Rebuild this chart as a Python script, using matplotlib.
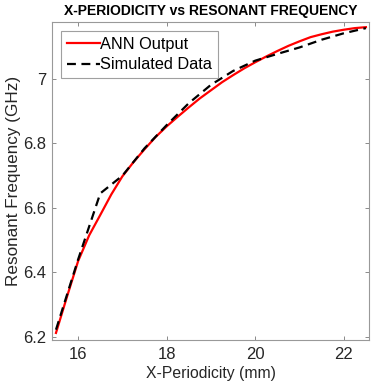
import matplotlib
matplotlib.use("Agg")
import matplotlib.pyplot as plt

plt.rcParams['font.family'] = ['Liberation Sans', 'DejaVu Sans']

x_sim = [15.5, 16.0, 16.5, 17.0, 17.5, 18.0, 18.5, 19.0, 19.5, 20.0, 20.5, 21.0, 21.5, 22.0, 22.5]
y_sim = [6.222, 6.44, 6.645, 6.70, 6.785, 6.857, 6.925, 6.982, 7.025, 7.057, 7.078, 7.098, 7.122, 7.142, 7.158]

x_ann = [15.5, 15.75, 16.0, 16.25, 16.5, 16.75, 17.0, 17.25, 17.5, 17.75, 18.0, 18.25, 18.5,
         18.75, 19.0, 19.25, 19.5, 19.75, 20.0, 20.25, 20.5, 20.75, 21.0, 21.25, 21.5, 21.75,
         22.0, 22.25, 22.5]
y_ann = [6.212, 6.325, 6.435, 6.515, 6.578, 6.642, 6.698, 6.742, 6.782, 6.82, 6.853, 6.883, 6.912,
         6.94, 6.965, 6.99, 7.012, 7.033, 7.052, 7.07, 7.087, 7.103, 7.117, 7.13, 7.139, 7.147,
         7.153, 7.158, 7.161]

xticks = [16, 18, 20, 22]
yticks = [6.2, 6.4, 6.6, 6.8, 7.0]
yticklabels = ['6.2', '6.4', '6.6', '6.8', '7']

fig = plt.figure(figsize=(3.72, 3.90), dpi=100)
ax = fig.add_axes([52/372, 1-340/390, (369-52)/372, (340-22)/390])

ax.plot(x_ann, y_ann, color='#ff0000', lw=1.6, label='ANN Output')
ax.plot(x_sim, y_sim, color='black', lw=1.6, ls=(0, (4, 2.5)), label='Simulated Data')

ax.set_xlim(15.41, 22.57)
ax.set_ylim(6.19, 7.177)
ax.set_xticks(xticks)
ax.set_yticks(yticks)
ax.set_yticklabels(yticklabels)
ax.tick_params(direction='in', top=True, right=True, length=3, width=0.6,
               color='#777777', labelsize=12, labelcolor='#262626', pad=5)
ax.tick_params(axis='y', pad=4)
for s in ax.spines.values():
    s.set_color('#999999')
    s.set_linewidth(0.8)

ax.set_xlabel('X-Periodicity (mm)', fontsize=11.3, color='#262626', labelpad=3)
ax.set_ylabel('Resonant Frequency (GHz)', fontsize=12.3, color='#262626', labelpad=2)
ax.set_title('X-PERIODICITY vs RESONANT FREQUENCY', fontsize=10, fontweight='bold', pad=5)

leg = ax.legend(loc='upper left', fontsize=11.8, frameon=True, fancybox=False,
                edgecolor='#888888', borderpad=0.35, handlelength=2.0,
                handletextpad=0.05, labelspacing=0.35, borderaxespad=0.55)
leg.get_frame().set_linewidth(0.8)

fig.savefig('out.png', dpi=100)
